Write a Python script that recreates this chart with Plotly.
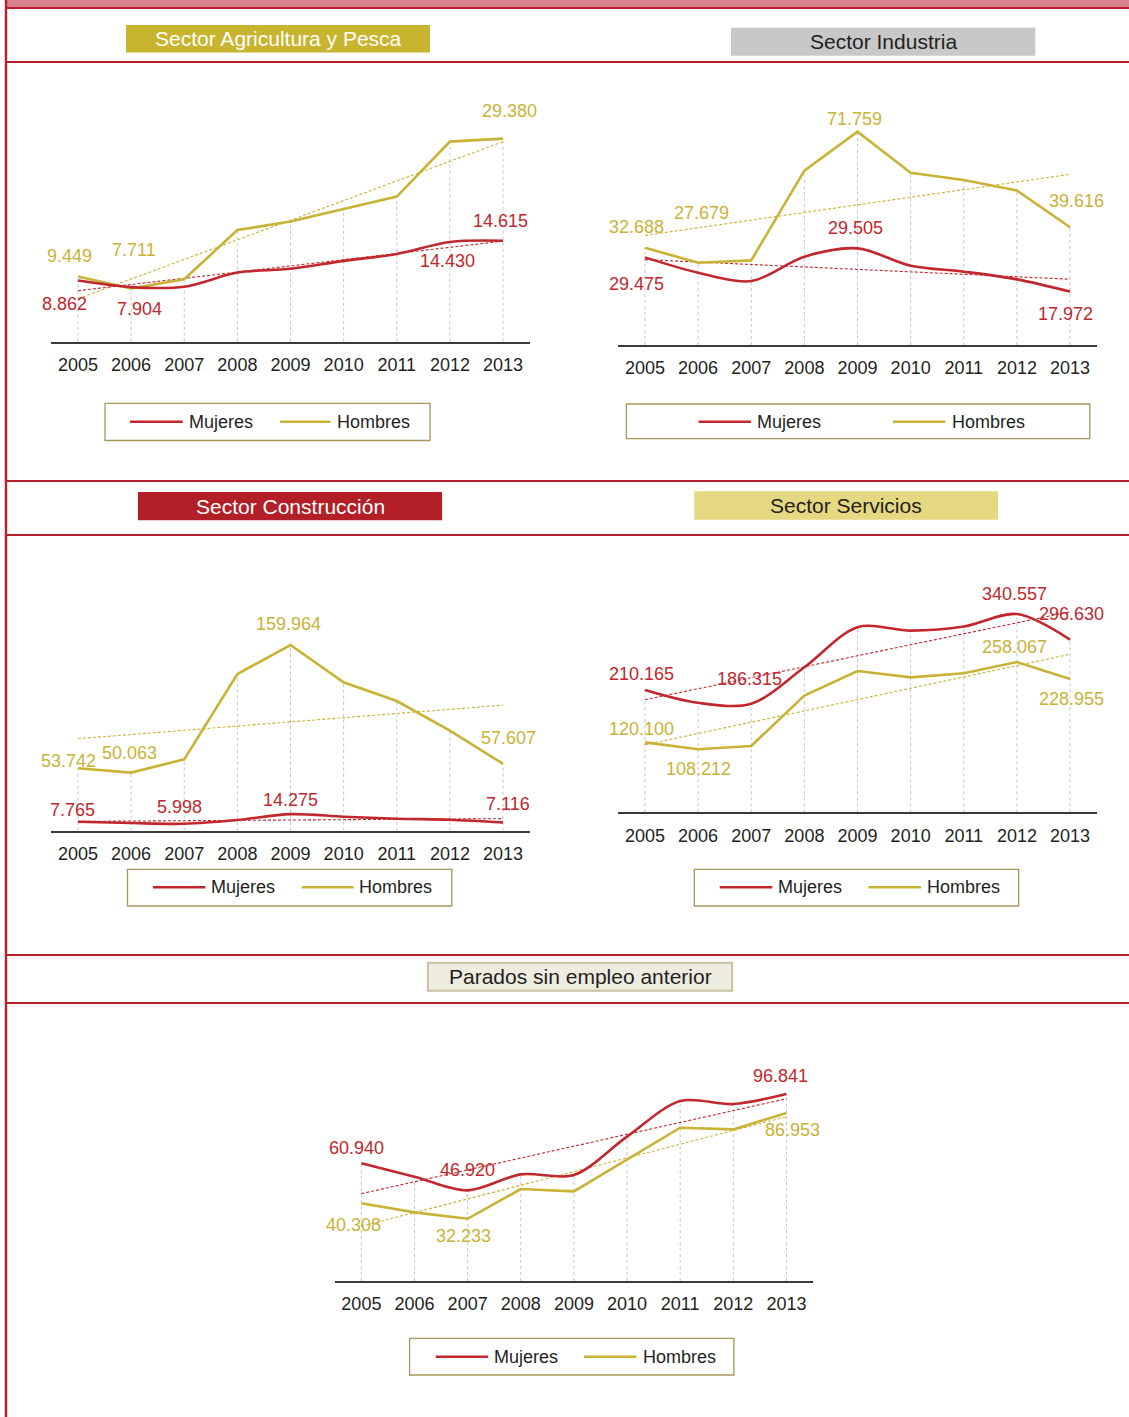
import numpy as np
import plotly.graph_objects as go

# ---------------- DATA ----------------
years = [2005, 2006, 2007, 2008, 2009, 2010, 2011, 2012, 2013]
year_labels = [str(y) for y in years]
series_names = ["Mujeres", "Hombres"]

agri_mujeres = [8862, 7904, 7950, 10000, 10550, 11700, 12700, 14430, 14615]
agri_hombres = [9449, 7711, 9050, 16150, 17400, 19150, 21000, 28950, 29380]

ind_mujeres = [29475, 24330, 21520, 29700, 32500, 26680, 24660, 22080, 17972]
ind_hombres = [32688, 27679, 28470, 58630, 71759, 57960, 55490, 52010, 39616]

con_mujeres = [7765, 6600, 5998, 9190, 14275, 12060, 10340, 9480, 7116]
con_hombres = [53742, 50063, 61460, 134980, 159964, 127800, 111720, 86160, 57607]

serv_mujeres = [210165, 188000, 186315, 249000, 318000, 312000, 319000, 340557, 296630]
serv_hombres = [120100, 108212, 113900, 200340, 242700, 231800, 238700, 258067, 228955]

par_mujeres = [60940, 54020, 46920, 55230, 54890, 74740, 93200, 91650, 96841]
par_hombres = [40308, 35560, 32233, 47640, 46430, 63000, 79400, 78530, 86953]

panel_titles = ["Sector Agricultura y Pesca", "Sector Industria", "Sector Construcción",
                "Sector Servicios", "Parados sin empleo anterior"]

# data labels shown on the chart: (series, year, text)
agri_labels = [("Hombres", 2013, "29.380"), ("Mujeres", 2013, "14.615"), ("Mujeres", 2012, "14.430"),
               ("Hombres", 2005, "9.449"), ("Hombres", 2006, "7.711"), ("Mujeres", 2005, "8.862"),
               ("Mujeres", 2006, "7.904")]
ind_labels = [("Hombres", 2009, "71.759"), ("Hombres", 2005, "32.688"), ("Hombres", 2006, "27.679"),
              ("Hombres", 2013, "39.616"), ("Mujeres", 2009, "29.505"), ("Mujeres", 2005, "29.475"),
              ("Mujeres", 2013, "17.972")]
con_labels = [("Hombres", 2009, "159.964"), ("Hombres", 2005, "53.742"), ("Hombres", 2006, "50.063"),
              ("Hombres", 2013, "57.607"), ("Mujeres", 2005, "7.765"), ("Mujeres", 2007, "5.998"),
              ("Mujeres", 2009, "14.275"), ("Mujeres", 2013, "7.116")]
serv_labels = [("Mujeres", 2012, "340.557"), ("Mujeres", 2013, "296.630"), ("Mujeres", 2005, "210.165"),
               ("Mujeres", 2007, "186.315"), ("Hombres", 2012, "258.067"), ("Hombres", 2013, "228.955"),
               ("Hombres", 2005, "120.100"), ("Hombres", 2006, "108.212")]
par_labels = [("Mujeres", 2013, "96.841"), ("Hombres", 2013, "86.953"), ("Mujeres", 2005, "60.940"),
              ("Mujeres", 2007, "46.920"), ("Hombres", 2005, "40.308"), ("Hombres", 2007, "32.233")]

# ---------------- LAYOUT / STYLE ----------------
W, H = 1129, 1417
RED = "#c1272d"
GOLD = "#c9b336"
FRAME = "#b5202b"
TXT = "#231f20"
FONT = "Liberation Sans, Arial, sans-serif"
colors = {"Mujeres": RED, "Hombres": GOLD}


def px(x):
    return x / W


def py(y):
    return 1 - y / H


# per panel: data, labels, x-left px, x-right px, top px, baseline px, y max
panels = [
    dict(m=agri_mujeres, h=agri_hombres, labels=agri_labels,
         x0=51.4, x1=529.6, top=90, base=341.7, ymax=(341.7 - 90) * 144.7,
         offs=[(6, -28), (-3, -20), (-2, 19), (-8, -20), (3, -38), (-13, 24), (8, 22)],
         title_box=(126, 25, 430, 52.5), title_fill="#c8b42e", title_col="white", title_border=None,
         legend=(105, 403.3, 430, 440.5), leg_items=[(130, 182.7, 186.5), (280, 330.5, 335)], leg_y=421.7),
    dict(m=ind_mujeres, h=ind_hombres, labels=ind_labels,
         x0=618.4, x1=1096.6, top=90, base=345, ymax=(345 - 90) * 336.4,
         offs=[(-3, -13), (-8, -21), (3, -50), (6, -26), (-2, -20), (-8, 27), (-5, 22)],
         title_box=(731, 27.7, 1035.3, 55.7), title_fill="#c8c8c8", title_col=TXT, title_border=None,
         legend=(626.4, 404, 1089.8, 438.7), leg_items=[(698.6, 750.9, 755), (893, 945.3, 950)], leg_y=421.7),
    dict(m=con_mujeres, h=con_hombres, labels=con_labels,
         x0=51.4, x1=529.6, top=560, base=830.7, ymax=(830.7 - 560) * 861.4,
         offs=[(-2, -21), (-9, -7), (-2, -20), (5, -26), (-5, -12), (-5, -17), (0, -14), (5, -18)],
         title_box=(137.9, 492, 442.1, 520.3), title_fill="#b31f27", title_col="white", title_border=None,
         legend=(127.5, 869.3, 451.8, 906), leg_items=[(152.9, 205.4, 209), (301.8, 353.6, 357.2)], leg_y=887.3),
    dict(m=serv_mujeres, h=serv_hombres, labels=serv_labels,
         x0=618.4, x1=1096.6, top=560, base=812.3, ymax=(812.3 - 560) * 1717.4,
         offs=[(-2, -20), (1, -26), (-3, -16), (-2, -25), (-2, -15), (1, 20), (-3, -13), (0, 20)],
         title_box=(694.3, 491.3, 998, 519.7), title_fill="#e4d880", title_col=TXT, title_border=None,
         legend=(694.3, 869.3, 1018.6, 906), leg_items=[(719.7, 772.3, 776), (868.4, 921, 924.7)], leg_y=887.3),
    dict(m=par_mujeres, h=par_hombres, labels=par_labels,
         x0=334.8, x1=813.0, top=1030, base=1281, ymax=(1281 - 1030) * 517.9,
         offs=[(-6, -18), (6, 17), (-5, -15), (0, -20), (-8, 22), (-4, 17)],
         title_box=(427.9, 962.7, 732.1, 990.7), title_fill="#eeebdf", title_col=TXT, title_border="#c9c0a0",
         legend=(409.6, 1338.3, 733.9, 1375), leg_items=[(435.7, 488.2, 491.9), (584, 636.4, 640.8)], leg_y=1356.7),
]

fig = go.Figure()
shapes = []
annotations = []
layout_axes = {}

for i, p in enumerate(panels):
    k = "" if i == 0 else str(i + 1)
    xa, ya = "x" + k, "y" + k
    series = {"Mujeres": p["m"], "Hombres": p["h"]}
    idx = np.arange(len(years))

    # trend lines (linear least squares) drawn from the data
    for name in ["Hombres", "Mujeres"]:
        vals = np.array(series[name], dtype=float)
        slope, inter = np.polyfit(idx, vals, 1)
        fig.add_trace(go.Scatter(
            x=[years[0], years[-1]], y=[inter, inter + slope * idx[-1]],
            mode="lines", line=dict(color=colors[name], width=1.1, dash="3px,2px"),
            xaxis=xa, yaxis=ya, showlegend=False, hoverinfo="skip"))

    fig.add_trace(go.Scatter(x=years, y=series["Hombres"], mode="lines", name="Hombres",
                             line=dict(color=GOLD, width=2.6), xaxis=xa, yaxis=ya, showlegend=False))
    fig.add_trace(go.Scatter(x=years, y=series["Mujeres"], mode="lines", name="Mujeres",
                             line=dict(color=RED, width=2.6, shape="spline", smoothing=0.9),
                             xaxis=xa, yaxis=ya, showlegend=False))

    # vertical dotted drop lines up to the highest series
    for j, yr in enumerate(years):
        top_val = max(series["Mujeres"][j], series["Hombres"][j])
        shapes.append(dict(type="line", xref=xa, yref=ya, x0=yr, x1=yr, y0=0, y1=top_val,
                           line=dict(color="#c4c4c4", width=1, dash="dot"), layer="below"))

    # data labels
    for (name, yr, text), (dx, dy) in zip(p["labels"], p["offs"]):
        j = years.index(yr)
        annotations.append(dict(x=yr, y=series[name][j], xref=xa, yref=ya, text=text,
                                showarrow=False, xanchor="center", yanchor="middle",
                                xshift=dx, yshift=-dy,
                                font=dict(family=FONT, size=18, color=colors[name])))

    layout_axes["xaxis" + k] = dict(
        domain=[px(p["x0"]), px(p["x1"])], anchor=ya, range=[years[0] - 0.5, years[-1] + 0.5],
        tickvals=years, ticktext=year_labels, showgrid=False, zeroline=False,
        showline=True, linecolor="#3a3a3a", linewidth=1.6, ticks="", ticklabelstandoff=6,
        tickfont=dict(family=FONT, size=18, color=TXT), fixedrange=True)
    layout_axes["yaxis" + k] = dict(
        domain=[py(p["base"]), py(p["top"])], anchor=xa, range=[0, p["ymax"]],
        visible=False, showgrid=False, zeroline=False, fixedrange=True)

    # title box
    bx0, by0, bx1, by1 = p["title_box"]
    shapes.append(dict(type="rect", xref="paper", yref="paper", x0=px(bx0), x1=px(bx1), y0=py(by1), y1=py(by0),
                       fillcolor=p["title_fill"],
                       line=dict(color=p["title_border"] or p["title_fill"], width=2 if p["title_border"] else 0)))
    annotations.append(dict(x=px((bx0 + bx1) / 2), y=py((by0 + by1) / 2), xref="paper", yref="paper",
                            text=panel_titles[i], showarrow=False, xanchor="center", yanchor="middle",
                            font=dict(family=FONT, size=21, color=p["title_col"])))

    # legend box
    lx0, ly0, lx1, ly1 = p["legend"]
    shapes.append(dict(type="rect", xref="paper", yref="paper", x0=px(lx0), x1=px(lx1), y0=py(ly1), y1=py(ly0),
                       fillcolor="white", line=dict(color="#a8975a", width=1.3)))
    for name, (s0, s1, tx) in zip(series_names, p["leg_items"]):
        shapes.append(dict(type="line", xref="paper", yref="paper", x0=px(s0), x1=px(s1),
                           y0=py(p["leg_y"]), y1=py(p["leg_y"]), line=dict(color=colors[name], width=2.6)))
        annotations.append(dict(x=px(tx), y=py(p["leg_y"]), xref="paper", yref="paper", text=name,
                                showarrow=False, xanchor="left", yanchor="middle",
                                font=dict(family=FONT, size=18, color=TXT)))

# page frame
shapes.append(dict(type="rect", xref="paper", yref="paper", x0=px(7), x1=1, y0=py(7), y1=1,
                   fillcolor="#d9818a", line=dict(width=0)))
for yline in [8, 62, 481, 535, 955, 1003]:
    shapes.append(dict(type="line", xref="paper", yref="paper", x0=px(5), x1=1, y0=py(yline), y1=py(yline),
                       line=dict(color=FRAME, width=2.2)))
shapes.append(dict(type="line", xref="paper", yref="paper", x0=px(6), x1=px(6), y0=0, y1=1,
                   line=dict(color=FRAME, width=2.4)))

fig.update_layout(
    width=W, height=H, margin=dict(l=0, r=0, t=0, b=0),
    paper_bgcolor="white", plot_bgcolor="rgba(0,0,0,0)",
    shapes=shapes, annotations=annotations, showlegend=False,
    font=dict(family=FONT), **layout_axes)

fig.write_html("out.html", config={"displayModeBar": False},
               post_script="document.body.style.margin='0';document.body.style.overflow='hidden';")
